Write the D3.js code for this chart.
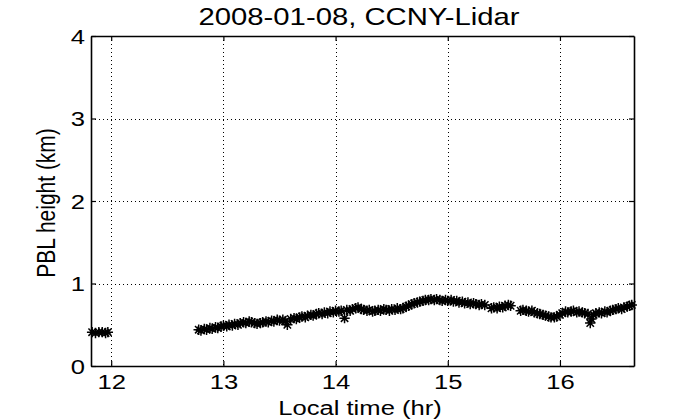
<!DOCTYPE html>
<html>
<head>
<meta charset="utf-8">
<script src="https://cdn.jsdelivr.net/npm/d3@7"></script>
<style>
  html, body { margin: 0; padding: 0; background: #fff; }
  text { font-family: "Liberation Sans", Arial, sans-serif; fill: #000; }
</style>
</head>
<body>
<svg id="chart" width="700" height="420"></svg>
<script>
const titleText = "2008-01-08, CCNY-Lidar";
const xLabel = "Local time (hr)";
const yLabel = "PBL height (km)";
const xTicks = [12, 13, 14, 15, 16];
const yTicks = [0, 1, 2, 3, 4];
const xDomain = [11.82, 16.66];
const yDomain = [0, 4];

// Local time (hr) of each PBL retrieval
const timeHr = [
  11.83, 11.86, 11.89, 11.92, 11.95, 11.97,
  12.78, 12.80, 12.83, 12.85, 12.88, 12.90, 12.93, 12.95, 12.98,
  13.00, 13.03, 13.05, 13.08, 13.10, 13.13, 13.15, 13.18, 13.20, 13.23, 13.25, 13.28, 13.30,
  13.33, 13.35, 13.38, 13.40, 13.43, 13.45, 13.48, 13.50, 13.53, 13.55, 13.57, 13.60, 13.63,
  13.65, 13.68, 13.70, 13.73, 13.75, 13.78, 13.80, 13.83, 13.85, 13.88, 13.90, 13.93, 13.95, 13.98,
  14.00, 14.03, 14.05, 14.08, 14.10, 14.13, 14.15, 14.18, 14.20, 14.23, 14.25, 14.28, 14.30,
  14.33, 14.35, 14.38, 14.40, 14.43, 14.45, 14.48, 14.50, 14.53, 14.55, 14.58, 14.60, 14.63,
  14.65, 14.68, 14.70, 14.73, 14.75, 14.78, 14.80, 14.83, 14.85, 14.88, 14.90, 14.93, 14.95, 14.98,
  15.00, 15.03, 15.05, 15.08, 15.10, 15.13, 15.15, 15.18, 15.20, 15.23, 15.25, 15.28, 15.30, 15.33,
  15.39, 15.41, 15.44, 15.46, 15.49, 15.51, 15.54, 15.56,
  15.65, 15.67, 15.70, 15.72, 15.75, 15.77, 15.80, 15.82, 15.85, 15.87, 15.90, 15.92, 15.95, 15.97,
  16.00, 16.02, 16.05, 16.07, 16.10, 16.12, 16.15, 16.17, 16.20, 16.22, 16.25, 16.27, 16.28, 16.30,
  16.32, 16.35, 16.37, 16.40, 16.42, 16.45, 16.47, 16.50, 16.52, 16.55, 16.57, 16.60, 16.62, 16.64
];
// PBL height (km)
const pblKm = [
  0.41, 0.40, 0.41, 0.41, 0.40, 0.41,
  0.44, 0.43, 0.45, 0.44, 0.46, 0.45, 0.47, 0.46, 0.48,
  0.49, 0.48, 0.50, 0.49, 0.51, 0.50, 0.52, 0.53, 0.52, 0.54, 0.53, 0.52, 0.51,
  0.52, 0.53, 0.54, 0.53, 0.55, 0.54, 0.56, 0.55, 0.56, 0.54, 0.50, 0.57, 0.58,
  0.57, 0.59, 0.60, 0.59, 0.61, 0.62, 0.61, 0.63, 0.64, 0.63, 0.65, 0.64, 0.66, 0.65,
  0.67, 0.66, 0.67, 0.58, 0.68, 0.67, 0.69, 0.70, 0.71, 0.69, 0.68, 0.67, 0.68,
  0.66, 0.67, 0.68, 0.67, 0.69, 0.68, 0.67, 0.69, 0.68, 0.70, 0.69, 0.70, 0.72,
  0.73, 0.75, 0.76, 0.77, 0.78, 0.79, 0.80, 0.80, 0.81, 0.80, 0.81, 0.80, 0.79, 0.80,
  0.79, 0.80, 0.78, 0.79, 0.77, 0.78, 0.76, 0.77, 0.75, 0.76, 0.75, 0.74, 0.75, 0.74,
  0.70, 0.71, 0.70, 0.72, 0.71, 0.73, 0.74, 0.73,
  0.67, 0.68, 0.67, 0.66, 0.67, 0.65, 0.64, 0.63, 0.62, 0.61, 0.60, 0.59, 0.59, 0.60,
  0.62, 0.64, 0.66, 0.65, 0.66, 0.67, 0.65, 0.66, 0.65, 0.64, 0.63, 0.52, 0.57, 0.62,
  0.64, 0.65, 0.64, 0.66, 0.65, 0.67, 0.68, 0.69, 0.70, 0.69, 0.71, 0.72, 0.73, 0.74
];

const W = 700, H = 420;
const m = { left: 91, right: 66, top: 36, bottom: 54 };
const svg = d3.select("#chart");
const x = d3.scaleLinear().domain(xDomain).range([m.left, W - m.right]);
const y = d3.scaleLinear().domain(yDomain).range([H - m.bottom, m.top]);
const SX = 1.22; // horizontal stretch of the original raster text

// grid
const grid = svg.append("g").attr("stroke", "#000").attr("stroke-width", 1).attr("stroke-dasharray", "1,3");
grid.selectAll("line.gx").data(xTicks).join("line")
  .attr("x1", d => Math.round(x(d)) + 0.5).attr("x2", d => Math.round(x(d)) + 0.5)
  .attr("y1", y.range()[1]).attr("y2", y.range()[0]);
grid.selectAll("line.gy").data(yTicks.filter(d => d > 0 && d < 4)).join("line")
  .attr("y1", d => Math.round(y(d)) + 0.5).attr("y2", d => Math.round(y(d)) + 0.5)
  .attr("x1", x.range()[0]).attr("x2", x.range()[1]);

// markers (asterisk)
const a = 5.2, b = 3.7;
const star = `M${-a},0L${a},0M0,${-a}L0,${a}M${-b},${-b}L${b},${b}M${-b},${b}L${b},${-b}`;
svg.append("g").selectAll("path").data(timeHr.map((t, i) => [t, pblKm[i]])).join("path")
  .attr("d", star)
  .attr("transform", d => `translate(${x(d[0])},${y(d[1])})`)
  .attr("fill", "none").attr("stroke", "#000").attr("stroke-width", 1.5);

// axes
const xAxis = d3.axisBottom(x).tickValues(xTicks).tickSize(-5).tickSizeOuter(0).tickFormat(d3.format("d"));
const xAxisTop = d3.axisTop(x).tickValues(xTicks).tickSize(-5).tickSizeOuter(0).tickFormat("");
const yAxis = d3.axisLeft(y).tickValues(yTicks).tickSize(-5).tickSizeOuter(0).tickFormat(d3.format("d"));
const yAxisR = d3.axisRight(y).tickValues(yTicks).tickSize(-5).tickSizeOuter(0).tickFormat("");

function styleAxis(g) {
  g.select(".domain").attr("stroke", "#000").attr("stroke-width", 1.6);
  g.selectAll(".tick line").attr("stroke", "#000").attr("stroke-width", 1.2);
  g.selectAll(".tick text").attr("font-size", 21).attr("fill", "#000")
    .attr("font-family", "Liberation Sans, Arial, sans-serif");
}
const gx = svg.append("g").attr("transform", `translate(0,${y.range()[0]})`).call(xAxis).call(styleAxis);
gx.selectAll(".tick text").attr("y", 0).attr("dy", 0)
  .attr("transform", `translate(0,23) scale(${SX},1)`);
svg.append("g").attr("transform", `translate(0,${y.range()[1]})`).call(xAxisTop).call(styleAxis);
const gy = svg.append("g").attr("transform", `translate(${x.range()[0]},0)`).call(yAxis).call(styleAxis);
gy.selectAll(".tick text").attr("x", 0).attr("dy", "0.35em")
  .attr("transform", `translate(-6,0) scale(${SX},1)`);
svg.append("g").attr("transform", `translate(${x.range()[1]},0)`).call(yAxisR).call(styleAxis);

// title and labels
svg.append("text").attr("text-anchor", "middle").attr("font-size", 24)
  .attr("transform", `translate(359,25) scale(${SX},1)`).text(titleText);
svg.append("text").attr("text-anchor", "middle").attr("font-size", 21)
  .attr("transform", `translate(360,415) scale(${SX},1)`).text(xLabel);
svg.append("text").attr("text-anchor", "middle").attr("font-size", 21)
  .attr("transform", `translate(55,203) rotate(-90) scale(1,${SX})`).text(yLabel);
</script>
</body>
</html>
